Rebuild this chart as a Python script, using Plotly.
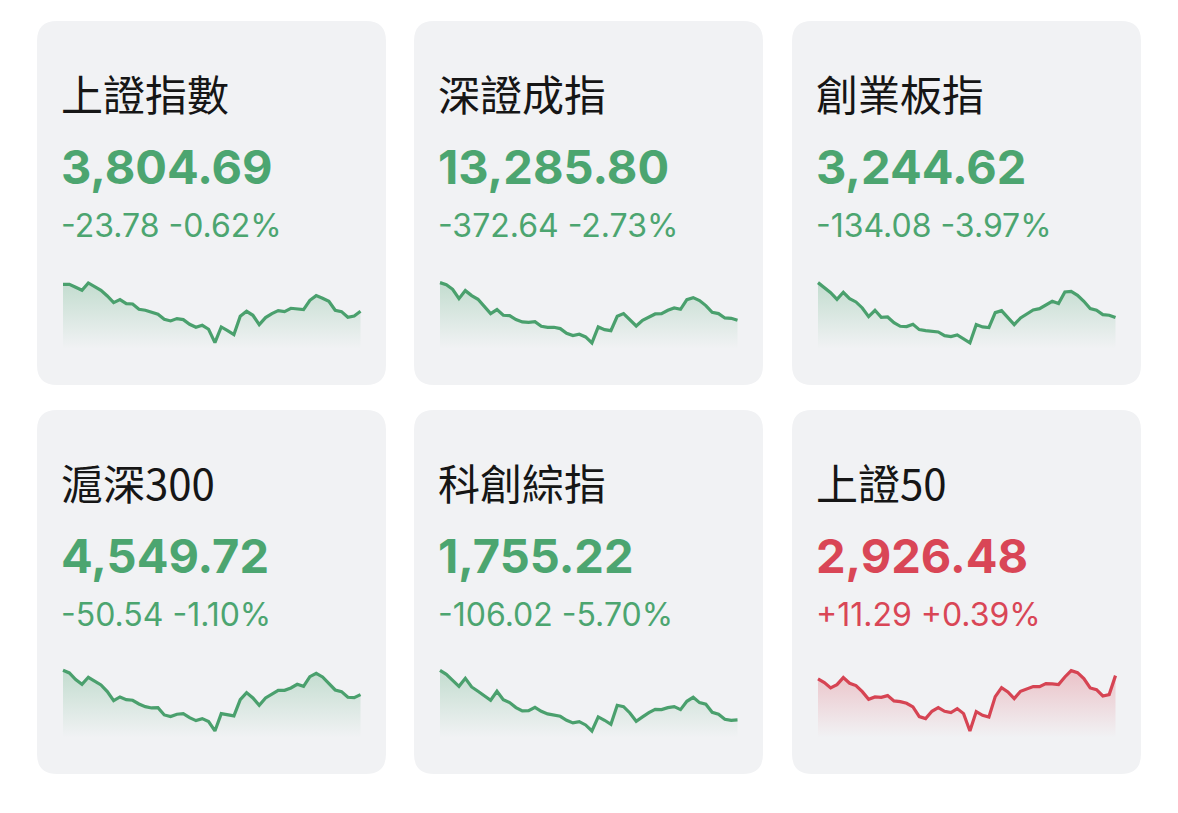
import plotly.graph_objects as go

W, H = 1178, 813

names = ["上證指數", "深證成指", "創業板指", "滬深300", "科創綜指", "上證50"]
prices = ["3,804.69", "13,285.80", "3,244.62", "4,549.72", "1,755.22", "2,926.48"]
changes = ["-23.78 -0.62%", "-372.64 -2.73%", "-134.08 -3.97%",
           "-50.54 -1.10%", "-106.02 -5.70%", "+11.29 +0.39%"]
direction = ["down", "down", "down", "down", "down", "up"]

# intraday sparkline levels (relative units)
spark_sh = [193, 193, 184, 175, 197, 185, 175, 158, 138, 147, 135, 134, 118, 115, 110, 103,
            88, 83, 90, 87, 73, 64, 70, 58, 18, 65, 54, 42, 97, 112, 100, 72, 93, 105, 114,
            111, 121, 120, 117, 145, 159, 151, 142, 115, 111, 94, 98, 112]
spark_sz = [198, 192, 178, 150, 174, 159, 148, 128, 105, 117, 100, 99, 87, 80, 79, 81,
            67, 64, 64, 60, 46, 39, 43, 35, 17, 65, 57, 54, 97, 105, 87, 68, 85, 95, 104,
            105, 115, 122, 118, 147, 153, 144, 129, 109, 105, 92, 91, 85]
spark_cy = [198, 184, 168, 148, 169, 150, 140, 122, 96, 115, 94, 95, 78, 67, 66, 73,
            57, 54, 53, 50, 39, 36, 41, 29, 17, 72, 65, 63, 108, 114, 92, 72, 92, 104, 116,
            120, 132, 142, 135, 170, 172, 160, 142, 120, 115, 102, 100, 93]
spark_hs = [202, 194, 174, 160, 181, 170, 158, 138, 111, 122, 114, 112, 101, 93, 89, 90,
            68, 63, 70, 72, 60, 51, 57, 48, 20, 72, 68, 65, 114, 135, 119, 97, 119, 131, 142,
            142, 149, 160, 154, 183, 193, 182, 164, 143, 138, 121, 120, 129]
spark_kc = [202, 190, 172, 154, 178, 152, 139, 126, 112, 139, 114, 105, 90, 80, 81, 91,
            79, 71, 67, 64, 52, 44, 48, 38, 20, 62, 52, 40, 97, 93, 74, 49, 62, 75, 85,
            84, 90, 93, 84, 109, 121, 105, 100, 76, 70, 55, 52, 53]
spark_sz50 = [176, 165, 149, 159, 180, 163, 156, 138, 115, 122, 121, 126, 110, 108, 103, 92,
              63, 57, 79, 90, 79, 75, 87, 72, 20, 78, 67, 62, 123, 150, 137, 117, 139, 147, 153,
              153, 162, 161, 159, 182, 201, 195, 177, 149, 144, 125, 129, 186]
sparks = [spark_sh, spark_sz, spark_cy, spark_hs, spark_kc, spark_sz50]

GREEN = "#4ca570"
LINE_GREEN = "#4aa06d"
RED = "#d94656"
LINE_RED = "#d64453"
CARD = "#f1f2f4"

card_x0 = [37, 414, 792]
card_y0 = [21, 410]
card_w, card_h = 349, 364
radius = 20


def px(x):
    return x / W


def py(y):
    return 1 - y / H


def rounded_path(x0, y0, w, h, r):
    x1, y1 = x0 + w, y0 + h
    pts = [
        ("M", [(x0 + r, y0)]),
        ("L", [(x1 - r, y0)]),
        ("Q", [(x1, y0), (x1, y0 + r)]),
        ("L", [(x1, y1 - r)]),
        ("Q", [(x1, y1), (x1 - r, y1)]),
        ("L", [(x0 + r, y1)]),
        ("Q", [(x0, y1), (x0, y1 - r)]),
        ("L", [(x0, y0 + r)]),
        ("Q", [(x0, y0), (x0 + r, y0)]),
    ]
    s = ""
    for cmd, ps in pts:
        s += cmd + " " + " ".join(f"{px(a):.6f},{py(b):.6f}" for a, b in ps) + " "
    return s + "Z"


fig = go.Figure()
shapes = []
annotations = []
layout_axes = {}

npts = len(spark_sh)
step = 6.33  # px per sample
for k in range(6):
    col, row = k % 3, k // 3
    cx, cy = card_x0[col], card_y0[row]
    shapes.append(dict(type="path", path=rounded_path(cx, cy, card_w, card_h, radius),
                       xref="paper", yref="paper", fillcolor=CARD, line=dict(width=0),
                       layer="below"))
    up = direction[k] == "up"
    col_txt = RED if up else GREEN
    col_line = LINE_RED if up else LINE_GREEN
    rgb = "217,70,86" if up else "76,165,112"

    annotations.append(dict(text=names[k], xref="paper", yref="paper",
                            x=px(cx + 22), y=py(cy + 71), xanchor="left", yanchor="middle",
                            showarrow=False,
                            font=dict(family="Noto Sans CJK TC", size=42, color="#161616")))
    annotations.append(dict(text="<b>" + prices[k] + "</b>", xref="paper", yref="paper",
                            x=px(cx + 22), y=py(cy + 145), xanchor="left", yanchor="middle",
                            showarrow=False,
                            font=dict(family="Inter", size=47, color=col_txt)))
    annotations.append(dict(text=changes[k], xref="paper", yref="paper",
                            x=px(cx + 22), y=py(cy + 204), xanchor="left", yanchor="middle",
                            showarrow=False,
                            font=dict(family="Inter", size=32, color=col_txt)))

    pad = 0.5
    xl = cx + 26 - pad * step
    xr = cx + 26 + (npts - 1) * step + pad * step
    ytop = cy + 244.3
    ybot = cy + 327.6
    ax = "" if k == 0 else str(k + 1)
    layout_axes["xaxis" + ax] = dict(domain=[px(xl), px(xr)], range=[-pad, npts - 1 + pad],
                                     visible=False, fixedrange=True,
                                     anchor="y" + ax)
    layout_axes["yaxis" + ax] = dict(domain=[py(ybot), py(ytop)], range=[0, 250],
                                     visible=False, fixedrange=True,
                                     anchor="x" + ax)
    fig.add_trace(go.Scatter(
        x=list(range(npts)), y=sparks[k], mode="lines",
        line=dict(color=col_line, width=3.2, shape="linear"),
        fill="tozeroy",
        fillgradient=dict(type="vertical",
                          colorscale=[[0, f"rgba({rgb},0.0)"], [1, f"rgba({rgb},0.28)"]]),
        xaxis="x" + ax, yaxis="y" + ax, hoverinfo="skip", showlegend=False))

fig.update_layout(width=W, height=H, margin=dict(l=0, r=0, t=0, b=0),
                  paper_bgcolor="white", plot_bgcolor="rgba(0,0,0,0)",
                  shapes=shapes, annotations=annotations, showlegend=False,
                  **layout_axes)
fig.write_html("out.html", config=dict(displayModeBar=False))
